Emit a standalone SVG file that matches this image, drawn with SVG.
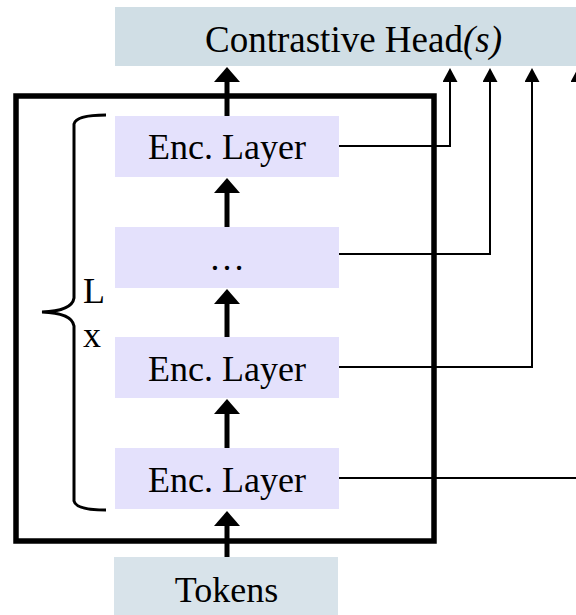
<svg xmlns="http://www.w3.org/2000/svg" width="576" height="615" viewBox="0 0 576 615">
<style>
.t{font-family:"Liberation Serif","Times New Roman",serif;font-size:36px;fill:#000}
.head{fill:#d0dee5}
.tok{fill:#d8e3ea}
.enc{fill:#e4e1fc}
.thick{stroke:#000;stroke-width:5;fill:none}
.thin{stroke:#000;stroke-width:2;fill:none}
</style>
<defs>
<marker id="ab" viewBox="0 0 15 26" refX="2" refY="13" markerWidth="15" markerHeight="26" markerUnits="userSpaceOnUse" orient="auto"><path d="M0,0 L15,13 L0,26 Z" fill="#000"/></marker>
<marker id="as" viewBox="0 0 14 15" refX="2" refY="7.5" markerWidth="14" markerHeight="15" markerUnits="userSpaceOnUse" orient="auto"><path d="M0,0 L14,7.5 L0,15 Z" fill="#000"/></marker>
</defs>
<g id="head">
<rect class="head" x="115" y="7" width="461" height="59"/>
<text class="t" x="205" y="52" style="font-size:37px">Contrastive Head<tspan font-style="italic">(s)</tspan></text>
</g>
<g id="encoder">
<rect x="16" y="96" width="418" height="445" fill="none" stroke="#000" stroke-width="5.5"/>
</g>
<g id="enc1">
<rect class="enc" x="115" y="116" width="224" height="61"/>
<text class="t" x="227" y="159" text-anchor="middle">Enc. Layer</text>
</g>
<g id="enc2">
<rect class="enc" x="115" y="227" width="224" height="61"/>
<text class="t" x="227" y="270" text-anchor="middle">…</text>
</g>
<g id="enc3">
<rect class="enc" x="115" y="337" width="224" height="61"/>
<text class="t" x="227" y="381" text-anchor="middle">Enc. Layer</text>
</g>
<g id="enc4">
<rect class="enc" x="115" y="448" width="224" height="61"/>
<text class="t" x="227" y="492" text-anchor="middle">Enc. Layer</text>
</g>
<g id="tokens">
<rect class="tok" x="114" y="557" width="224" height="58"/>
<text class="t" x="226.5" y="602" text-anchor="middle">Tokens</text>
</g>
<g id="brace">
<path d="M106,115 Q76,115 74,124 L74,298 Q72,311 42,312 Q72,313 74,326 L74,501 Q76,510 106,510" fill="none" stroke="#000" stroke-width="3"/>
<text class="t" x="83" y="303">L</text>
<text class="t" x="83" y="347">x</text>
</g>
<g id="connectors">
<line class="thick" x1="227" y1="116" x2="227" y2="80" marker-end="url(#ab)"/>
<line class="thick" x1="227" y1="227" x2="227" y2="191" marker-end="url(#ab)"/>
<line class="thick" x1="227" y1="337" x2="227" y2="302" marker-end="url(#ab)"/>
<line class="thick" x1="227" y1="448" x2="227" y2="412" marker-end="url(#ab)"/>
<line class="thick" x1="227" y1="557" x2="227" y2="524" marker-end="url(#ab)"/>
<polyline class="thin" points="339,146 450,146 450,80" marker-end="url(#as)"/>
<polyline class="thin" points="339,254 490,254 490,80" marker-end="url(#as)"/>
<polyline class="thin" points="339,367 532,367 532,80" marker-end="url(#as)"/>
<polyline class="thin" points="339,478 578,478 578,80" marker-end="url(#as)"/>
</g>
</svg>
